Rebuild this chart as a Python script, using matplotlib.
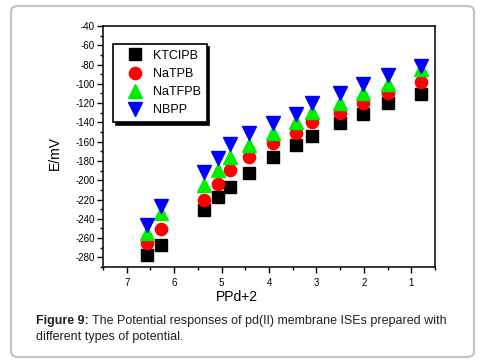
import matplotlib
matplotlib.use("Agg")
import matplotlib.pyplot as plt
from matplotlib.patches import FancyBboxPatch
from matplotlib.ticker import MultipleLocator

plt.rcParams['font.family'] = ['Liberation Sans', 'DejaVu Sans']
plt.rcParams['axes.unicode_minus'] = False

# Data
ppd = [6.57, 6.28, 5.36, 5.08, 4.82, 4.42, 3.92, 3.44, 3.09, 2.50, 2.01, 1.50, 0.80]
ktclpb = [-278, -267, -231, -217, -207, -192, -176, -163, -154, -141, -131, -120, -111]
natpb = [-265, -251, -220, -204, -189, -176, -161, -151, -140, -130, -120, -110, -98]
natfpb = [-255, -234, -205, -189, -176, -163, -151, -140, -129, -120, -110, -100, -85]
nbpp = [-246, -227, -191, -177, -162, -151, -141, -131, -120, -110, -100, -91, -82]
series_names = ['KTCIPB', 'NaTPB', 'NaTFPB', 'NBPP']

W, H = 484, 363
fig = plt.figure(figsize=(W / 100, H / 100), dpi=100)

# outer rounded frame
frame = FancyBboxPatch((11 / W, 6 / H), (474 - 11) / W, (357 - 6) / H,
                       boxstyle="round,pad=0,rounding_size=0.015",
                       transform=fig.transFigure, facecolor='none',
                       edgecolor='#c4c4c4', linewidth=1.6, zorder=-5)
fig.patches.append(frame)

ax_l, ax_r, ax_t, ax_b = 103, 435, 26, 267
ax = fig.add_axes([ax_l / W, (H - ax_b) / H, (ax_r - ax_l) / W, (ax_b - ax_t) / H])

ax.plot(ppd, ktclpb, 's', color='black', markersize=8, label=series_names[0], linestyle='none')
ax.plot(ppd, natpb, 'o', color='red', markersize=8.8, label=series_names[1], linestyle='none')
ax.plot(ppd, natfpb, '^', color='#00ee00', markersize=9.5, label=series_names[2], linestyle='none')
ax.plot(ppd, nbpp, 'v', color='blue', markersize=9.5, label=series_names[3], linestyle='none')

ax.set_xlim(7.5, 0.5)
ax.set_ylim(-290, -40)
ax.xaxis.set_major_locator(MultipleLocator(1))
ax.xaxis.set_minor_locator(MultipleLocator(0.5))
ax.yaxis.set_minor_locator(MultipleLocator(10))
ax.set_yticks(range(-280, -39, 20))
ax.tick_params(axis='both', which='major', direction='out', length=4, width=1, labelsize=7, pad=2)
ax.tick_params(axis='both', which='minor', direction='out', length=2.5, width=1)
ax.tick_params(axis='x', pad=4)
for s in ax.spines.values():
    s.set_linewidth(1.1)

fig.text(55 / W, 1 - 153 / H, 'E/mV', rotation=90, fontsize=10, ha='center', va='center')
fig.text(237 / W, 1 - 297 / H, 'PPd+2', fontsize=10, ha='center', va='center')

leg = ax.legend(loc='upper left', bbox_to_anchor=(0.030, 0.925), frameon=True,
                fancybox=False, shadow={'color': 'black', 'alpha': 1},
                fontsize=9, labelspacing=0.5, handletextpad=0.15, borderpad=0.45,
                handlelength=2.6, borderaxespad=0, markerscale=1.0)
leg.get_frame().set_edgecolor('black')
leg.get_frame().set_linewidth(1.2)

t1 = fig.text(36 / W, 1 - 324 / H, 'Figure 9:', fontsize=9, fontweight='bold',
              ha='left', va='baseline', color='#222222')
fig.text(36 / W, 1 - 340 / H, 'different types of potential.', fontsize=9,
         ha='left', va='baseline', color='#222222')

fig.canvas.draw()
bb = t1.get_window_extent()
fig.text(bb.x1 / W + 3 / W, 1 - 324 / H,
         'The Potential responses of pd(II) membrane ISEs prepared with',
         fontsize=9, ha='left', va='baseline', color='#222222')

fig.savefig('out.png', dpi=100)
